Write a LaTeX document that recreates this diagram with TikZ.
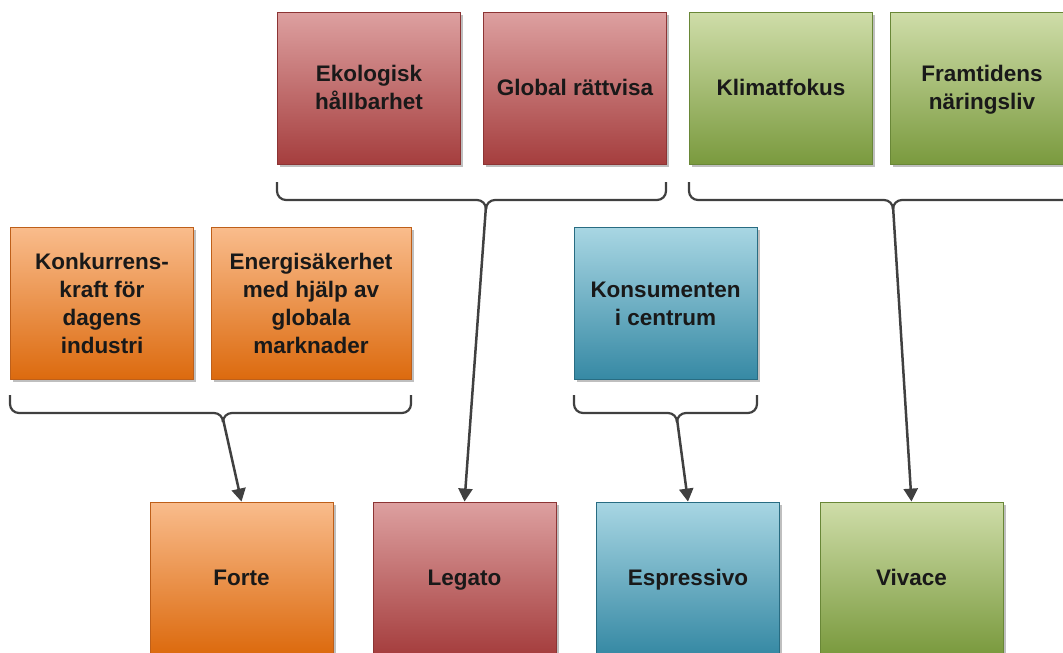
\documentclass[tikz,border=0pt]{standalone}
\usepackage{fontspec}
\setmainfont{Liberation Sans}
\usetikzlibrary{arrows.meta,shadows}
\definecolor{redT}{RGB}{221,160,160}
\definecolor{redB}{RGB}{165,62,62}
\definecolor{redD}{RGB}{140,52,52}
\definecolor{oraT}{RGB}{249,188,140}
\definecolor{oraB}{RGB}{220,106,14}
\definecolor{oraD}{RGB}{190,95,25}
\definecolor{bluT}{RGB}{168,214,227}
\definecolor{bluB}{RGB}{54,137,164}
\definecolor{bluD}{RGB}{40,108,130}
\definecolor{grnT}{RGB}{207,221,169}
\definecolor{grnB}{RGB}{122,154,62}
\definecolor{grnD}{RGB}{105,135,55}
\definecolor{lineC}{RGB}{64,64,64}
\newcommand\boxtext[1]{\raisebox{-2.2pt}[\height][\depth]{\begin{tabular}{@{}c@{}}#1\end{tabular}}}
\tikzset{
  box/.style={draw, line width=0.8pt, minimum width=183pt, minimum height=152pt,
    inner sep=0pt, text=black!90,
    font=\fontsize{22.5}{28}\selectfont\bfseries,
    drop shadow={shadow xshift=2.5pt, shadow yshift=-2.5pt, opacity=0.25, fill=black}},
  redbox/.style={box, top color=redT, bottom color=redB, draw=redD},
  orabox/.style={box, top color=oraT, bottom color=oraB, draw=oraD},
  blubox/.style={box, top color=bluT, bottom color=bluB, draw=bluD},
  grnbox/.style={box, top color=grnT, bottom color=grnB, draw=grnD},
  brace/.style={draw=lineC, line width=2.2pt, rounded corners=9pt},
  arr/.style={draw=lineC, line width=2.5pt, -{Triangle[width=14pt,length=13pt]}}
}
\begin{document}
\begin{tikzpicture}[x=1pt,y=-1pt]
\useasboundingbox (0,0) rectangle (1063,653);
\clip (0,0) rectangle (1063,653);
% top row
\node[redbox] (ekol) at (369,88) {\boxtext{Ekologisk\\hållbarhet}};
\node[redbox] (glob) at (575,88) {\boxtext{Global rättvisa}};
\node[grnbox] (klim) at (781,88) {\boxtext{Klimatfokus}};
\node[grnbox] (fram) at (982,88) {\boxtext{Framtidens\\näringsliv}};
% middle row
\node[orabox] (konk) at (102,303.5) {\boxtext{Konkurrens-\\kraft för\\dagens\\industri}};
\node[orabox, minimum width=200pt] (ener) at (311,303.5) {\boxtext{Energisäkerhet\\med hjälp av\\globala\\marknader}};
\node[blubox] (kons) at (665.5,303.5) {\boxtext{Konsumenten\\i centrum}};
% bottom row
\node[orabox] (forte) at (241.5,578) {\boxtext{Forte}};
\node[redbox] (legato) at (464.5,578) {\boxtext{Legato}};
\node[blubox] (espr) at (688,578) {\boxtext{Espressivo}};
\node[grnbox] (viva) at (911.5,578) {\boxtext{Vivace}};
% braces
\coordinate (bRed) at (486,206);
\coordinate (bGrn) at (893,206);
\coordinate (bOra) at (223,419);
\coordinate (bBlu) at (677,419);
\draw[brace] (277,182) |- (486,200) -- (bRed);
\draw[brace] (666,182) |- (486,200) -- (bRed);
\draw[brace] (689,182) |- (893,200) -- (bGrn);
\draw[brace] (1073,182) |- (893,200) -- (bGrn);
\draw[brace] (10,395) |- (223,413) -- (bOra);
\draw[brace] (411,395) |- (223,413) -- (bOra);
\draw[brace] (574,395) |- (677,413) -- (bBlu);
\draw[brace] (757,395) |- (677,413) -- (bBlu);
% arrows
\draw[arr] (bRed) -- (legato.north);
\draw[arr] (bGrn) -- (viva.north);
\draw[arr] (bOra) -- (forte.north);
\draw[arr] (bBlu) -- (espr.north);
\end{tikzpicture}
\end{document}
